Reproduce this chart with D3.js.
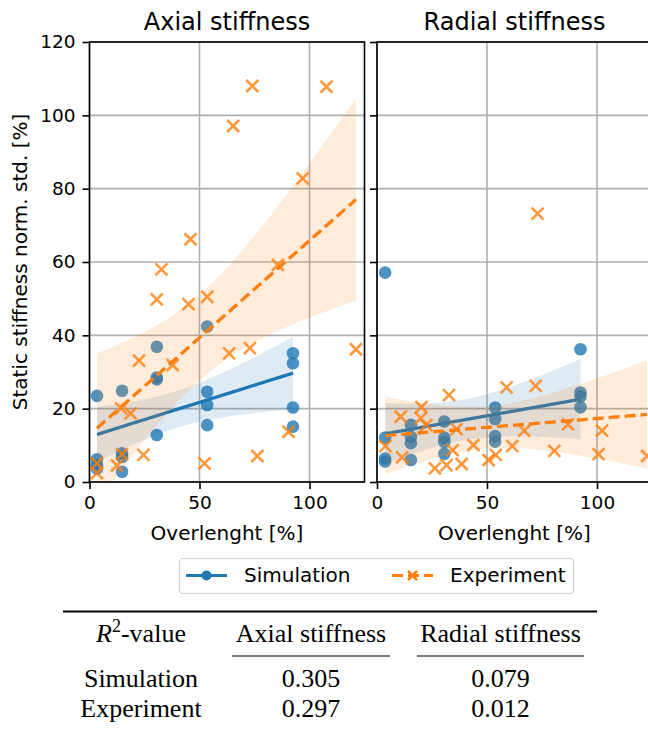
<!DOCTYPE html>
<html>
<head>
<meta charset="utf-8">
<script src="https://cdn.jsdelivr.net/npm/d3@7"></script>
<style>
  body { margin: 0; background: #fff; }
  svg { display: block; }
</style>
</head>
<body>
<svg id="chart" width="648" height="731"></svg>
<script>
// ---- data -------------------------------------------------------------
const panelTitles = ["Axial stiffness", "Radial stiffness"];
const seriesNames = ["Simulation", "Experiment"];
const xTicks = [0, 50, 100];
const yTicks = [0, 20, 40, 60, 80, 100, 120];

// Axial stiffness, simulation
const axialSimX = [3.4, 3.4, 3.4, 3.4, 14.8, 14.8, 14.8, 14.8, 30.6, 30.6, 30.6, 30.6,
                   53.5, 53.5, 53.5, 53.5, 92.5, 92.5, 92.5, 92.5];
const axialSimY = [23.5, 6.2, 4.6, 3.7, 24.9, 7.8, 6.8, 2.8, 36.9, 28.5, 28.0, 12.8,
                   42.4, 24.6, 21.0, 15.5, 35.1, 32.4, 20.3, 15.1];

// Axial stiffness, experiment
const axialExpX = [3.4, 3.4, 12.5, 14.8, 14.4, 18.7, 22.5, 24.5, 30.6, 32.7, 37.8, 45.0, 45.9,
                   52.3, 53.5, 63.5, 65.3, 72.9, 74.0, 76.3, 85.6, 90.5, 96.9, 107.7, 121.1];
const axialExpY = [5.1, 2.4, 4.5, 7.6, 20.1, 18.7, 33.1, 7.4, 49.8, 58.0, 31.9, 48.5, 66.2,
                   5.1, 50.5, 35.1, 97.1, 36.5, 108.0, 7.1, 59.2, 13.7, 82.8, 107.8, 36.2];

// Radial stiffness, simulation
const radialSimX = [3.7, 3.7, 3.7, 3.7, 15.4, 15.4, 15.4, 15.4, 30.6, 30.6, 30.6, 30.6,
                    53.7, 53.7, 53.7, 53.7, 92.5, 92.5, 92.5, 92.5];
const radialSimY = [57.1, 12.1, 6.4, 5.6, 15.6, 12.3, 10.6, 6.0, 16.5, 12.1, 10.9, 7.7,
                    20.3, 17.2, 12.5, 11.0, 36.2, 24.4, 23.3, 20.4];

// Radial stiffness, experiment
const radialExpX = [3.8, 10.8, 11.4, 19.9, 20.2, 22.4, 26.3, 31.6, 32.7, 34.4, 36.2, 38.5, 43.8,
                    50.7, 54.0, 58.9, 61.5, 66.9, 72.1, 73.0, 80.6, 86.8, 100.7, 102.3, 122.8];
const radialExpY = [9.8, 17.8, 6.7, 17.4, 20.4, 15.5, 3.7, 4.6, 23.7, 8.7, 14.4, 4.9, 10.1,
                    6.0, 7.4, 25.8, 9.8, 14.0, 26.2, 73.2, 8.5, 15.7, 7.6, 14.0, 7.1];

// R^2 table
const tableRows = ["Simulation", "Experiment"];
const r2Axial = ["0.305", "0.297"];
const r2Radial = ["0.079", "0.012"];

// ---- layout -----------------------------------------------------------
const colors = { Simulation: "#1f77b4", Experiment: "#ff7f0e" };
const plotTop = 42, plotBottom = 482, panelW = 275;
const panelLeft = [89.5, 377];
const sans = "'DejaVu Sans', sans-serif";
const serif = "'Liberation Serif', 'Times New Roman', serif";

const svg = d3.select("#chart");
const y = d3.scaleLinear().domain([0, 120]).range([plotBottom, plotTop]);

const panelData = [
  [ { name: "Simulation", xs: axialSimX, ys: axialSimY },
    { name: "Experiment", xs: axialExpX, ys: axialExpY } ],
  [ { name: "Simulation", xs: radialSimX, ys: radialSimY },
    { name: "Experiment", xs: radialExpX, ys: radialExpY } ]
];

// least-squares line with a 95% confidence band for the mean
function tQuantile975(df) {
  const z = 1.959964;
  return z + (z ** 3 + z) / (4 * df) + (5 * z ** 5 + 16 * z ** 3 + 3 * z) / (96 * df * df);
}
function linearFit(xs, ys) {
  const n = xs.length;
  const mx = d3.mean(xs), my = d3.mean(ys);
  let sxx = 0, sxy = 0;
  for (let i = 0; i < n; i++) { sxx += (xs[i] - mx) ** 2; sxy += (xs[i] - mx) * (ys[i] - my); }
  const slope = sxy / sxx, intercept = my - slope * mx;
  let sse = 0;
  for (let i = 0; i < n; i++) sse += (ys[i] - (intercept + slope * xs[i])) ** 2;
  const s = Math.sqrt(sse / (n - 2));
  const t = tQuantile975(n - 2);
  const [x0, x1] = d3.extent(xs);
  const grid = d3.range(100).map(i => x0 + (x1 - x0) * i / 99);
  return grid.map(gx => {
    const yhat = intercept + slope * gx;
    const half = t * s * Math.sqrt(1 / n + (gx - mx) ** 2 / sxx);
    return { x: gx, y: yhat, lo: yhat - half, hi: yhat + half };
  });
}

const xMark = "M-6,-6L6,6M-6,6L6,-6";

panelTitles.forEach((title, p) => {
  const left = panelLeft[p];
  const x = d3.scaleLinear().domain([0, 125]).range([left, left + panelW]);
  const g = svg.append("g");

  const clipId = "clip" + p;
  svg.append("clipPath").attr("id", clipId)
    .append("rect").attr("x", left).attr("y", plotTop)
    .attr("width", panelW).attr("height", plotBottom - plotTop);

  // grid
  const grid = g.append("g").attr("stroke", "#b0b0b0").attr("stroke-width", 1.6);
  grid.selectAll(".gx").data(xTicks).join("line")
    .attr("x1", d => x(d)).attr("x2", d => x(d))
    .attr("y1", plotTop).attr("y2", plotBottom);
  grid.selectAll(".gy").data(yTicks).join("line")
    .attr("x1", left).attr("x2", left + panelW)
    .attr("y1", d => y(d)).attr("y2", d => y(d));

  const plot = g.append("g").attr("clip-path", `url(#${clipId})`);

  panelData[p].forEach(ser => {
    const c = colors[ser.name];
    const pts = ser.xs.map((v, i) => ({ x: v, y: ser.ys[i] }));
    // scatter
    if (ser.name === "Simulation") {
      plot.append("g").selectAll("circle").data(pts).join("circle")
        .attr("cx", d => x(d.x)).attr("cy", d => y(d.y)).attr("r", 6.3)
        .attr("fill", c).attr("fill-opacity", 0.8);
    } else {
      plot.append("g").selectAll("path").data(pts).join("path")
        .attr("d", xMark).attr("transform", d => `translate(${x(d.x)},${y(d.y)})`)
        .attr("fill", "none").attr("stroke", c).attr("stroke-width", 2.6)
        .attr("stroke-opacity", 0.8);
    }
    // regression band and line
    const fit = linearFit(ser.xs, ser.ys);
    plot.append("path").datum(fit)
      .attr("d", d3.area().x(d => x(d.x)).y0(d => y(d.lo)).y1(d => y(d.hi)))
      .attr("fill", c).attr("fill-opacity", 0.15);
    plot.append("path").datum(fit)
      .attr("d", d3.line().x(d => x(d.x)).y(d => y(d.y)))
      .attr("fill", "none").attr("stroke", c).attr("stroke-width", 3.3)
      .attr("stroke-dasharray", ser.name === "Experiment" ? "11,5" : null);
  });

  // frame
  g.append("rect").attr("x", left).attr("y", plotTop)
    .attr("width", panelW).attr("height", plotBottom - plotTop)
    .attr("fill", "none").attr("stroke", "#000").attr("stroke-width", 1.6);

  // x axis
  const xAxis = g.append("g").attr("transform", `translate(0,${plotBottom})`)
    .call(d3.axisBottom(x).tickValues(xTicks).tickSize(7).tickPadding(7).tickFormat(d3.format("d")));
  xAxis.select(".domain").remove();
  xAxis.selectAll("line").attr("stroke", "#000").attr("stroke-width", 1.6);
  xAxis.selectAll("text").attr("font-family", sans).attr("font-size", 18.5).attr("fill", "#000");

  // y axis
  const yAxis = g.append("g").attr("transform", `translate(${left},0)`)
    .call(d3.axisLeft(y).tickValues(yTicks).tickSize(7).tickPadding(7)
      .tickFormat(p === 0 ? d3.format("d") : () => ""));
  yAxis.select(".domain").remove();
  yAxis.selectAll("line").attr("stroke", "#000").attr("stroke-width", 1.6);
  yAxis.selectAll("text").attr("font-family", sans).attr("font-size", 18.5).attr("fill", "#000");

  // titles
  g.append("text").attr("x", left + panelW / 2).attr("y", 30)
    .attr("text-anchor", "middle").attr("font-family", sans).attr("font-size", 24)
    .text(title);
  g.append("text").attr("x", left + panelW / 2).attr("y", 540)
    .attr("text-anchor", "middle").attr("font-family", sans).attr("font-size", 20)
    .text("Overlenght [%]");
});

// y label
svg.append("text")
  .attr("transform", `translate(26.5,${(plotTop + plotBottom) / 2}) rotate(-90)`)
  .attr("text-anchor", "middle").attr("font-family", sans).attr("font-size", 20)
  .text("Static stiffness norm. std. [%]");

// legend
const legend = svg.append("g");
legend.append("rect").attr("x", 179.5).attr("y", 558.5).attr("width", 394).attr("height", 35)
  .attr("rx", 4).attr("fill", "#fff").attr("stroke", "#d0d0d0").attr("stroke-width", 1.2);
const legendItems = [
  { name: seriesNames[0], hx: 186, tx: 244 },
  { name: seriesNames[1], hx: 392, tx: 450 }
];
legendItems.forEach(item => {
  const c = colors[item.name];
  const ly = 575.5;
  legend.append("line").attr("x1", item.hx).attr("x2", item.hx + 41)
    .attr("y1", ly).attr("y2", ly).attr("stroke", c).attr("stroke-width", 3.2)
    .attr("stroke-dasharray", item.name === "Experiment" ? "11,5" : null);
  if (item.name === "Simulation") {
    legend.append("circle").attr("cx", item.hx + 20.5).attr("cy", ly).attr("r", 5)
      .attr("fill", c);
  } else {
    legend.append("path").attr("d", "M-4.5,-4.5L4.5,4.5M-4.5,4.5L4.5,-4.5")
      .attr("transform", `translate(${item.hx + 20.5},${ly})`)
      .attr("stroke", c).attr("stroke-width", 2.5).attr("fill", "none");
  }
  legend.append("text").attr("x", item.tx).attr("y", 582)
    .attr("font-family", sans).attr("font-size", 20).text(item.name);
});

// R^2 table
const table = svg.append("g").attr("font-family", serif).attr("font-size", 26).attr("fill", "#000");
const colX = [141, 311, 500.5];
table.append("line").attr("x1", 63).attr("x2", 597).attr("y1", 611.5).attr("y2", 611.5)
  .attr("stroke", "#000").attr("stroke-width", 2);
const head = table.append("text").attr("x", colX[0]).attr("y", 641.5).attr("text-anchor", "middle");
head.append("tspan").attr("font-style", "italic").text("R");
head.append("tspan").attr("font-size", 18).attr("dy", -10).text("2");
head.append("tspan").attr("dy", 10).text("-value");
table.append("text").attr("x", colX[1]).attr("y", 641.5).attr("text-anchor", "middle").text(panelTitles[0]);
table.append("text").attr("x", colX[2]).attr("y", 641.5).attr("text-anchor", "middle").text(panelTitles[1]);
[[232, 390], [417, 584]].forEach(([a, b]) => {
  table.append("line").attr("x1", a).attr("x2", b).attr("y1", 656).attr("y2", 656)
    .attr("stroke", "#000").attr("stroke-width", 1.2);
});
tableRows.forEach((row, i) => {
  const by = 686.5 + i * 30.5;
  table.append("text").attr("x", colX[0]).attr("y", by).attr("text-anchor", "middle").text(row);
  table.append("text").attr("x", colX[1]).attr("y", by).attr("text-anchor", "middle").text(r2Axial[i]);
  table.append("text").attr("x", colX[2]).attr("y", by).attr("text-anchor", "middle").text(r2Radial[i]);
});
</script>
</body>
</html>
